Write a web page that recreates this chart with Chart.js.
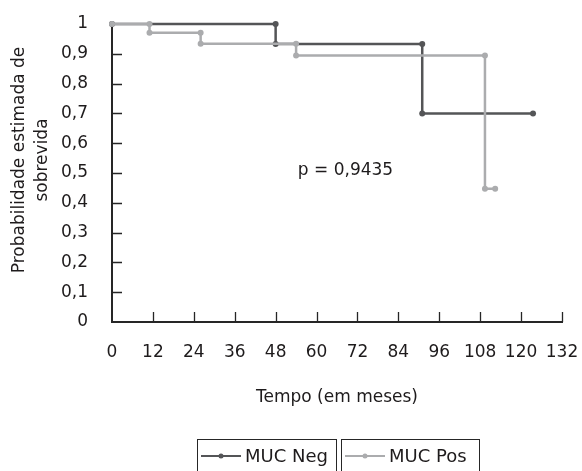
<!DOCTYPE html>
<html>
<head>
<meta charset="utf-8">
<script src="https://cdn.jsdelivr.net/npm/chart.js@4"></script>
<style>
  html, body { margin: 0; padding: 0; background: #fff; }
  #wrap { width: 582px; height: 471px; position: relative; }
</style>
</head>
<body>
<div id="wrap"><canvas id="kmChart"></canvas></div>
<script>
// --- DADOS ---
const negTempo = [0, 48, 48, 91, 91, 123.5];
const negSobrev = [1, 1, 0.933, 0.933, 0.70, 0.70];
const posTempo = [0, 11, 11, 26, 26, 54, 54, 109.4, 109.4, 112.4];
const posSobrev = [1, 1, 0.971, 0.971, 0.934, 0.934, 0.894, 0.894, 0.447, 0.447];
const seriesLabels = ['MUC Neg', 'MUC Pos'];
const yTickLabels = ['0', '0,1', '0,2', '0,3', '0,4', '0,5', '0,6', '0,7', '0,8', '0,9', '1'];
const xTicks = [0, 12, 24, 36, 48, 60, 72, 84, 96, 108, 120, 132];
const pTexto = 'p = 0,9435';

const fonte = 'DejaVu Sans';
const corTexto = '#1e1b1c';
const corEixo = '#262626';
const cores = { neg: '#545557', pos: '#abacae' };

const toPoints = (xs, ys) => xs.map((x, i) => ({ x: x, y: ys[i] }));

// ticks internos, texto p, titulo Y e legenda com caixas
const extras = {
  id: 'extras',
  beforeDatasetsDraw(chart) {
    const { ctx, scales: { x, y } } = chart;
    ctx.save();
    ctx.strokeStyle = corEixo;
    ctx.lineWidth = 1.3;
    ctx.beginPath();
    for (let i = 1; i < 10; i++) {
      const py = Math.round(y.getPixelForValue(i / 10)) + 0.5;
      ctx.moveTo(x.left, py);
      ctx.lineTo(x.left + 10, py);
    }
    xTicks.slice(1).forEach(v => {
      const px = Math.round(x.getPixelForValue(v)) + 0.5;
      ctx.moveTo(px, y.bottom);
      ctx.lineTo(px, y.bottom - 10);
    });
    ctx.stroke();
    ctx.restore();
  },
  afterDraw(chart) {
    const { ctx, scales: { x, y } } = chart;
    ctx.save();
    ctx.fillStyle = corTexto;
    ctx.textAlign = 'center';
    ctx.textBaseline = 'middle';

    // p-valor
    ctx.font = '17px ' + fonte;
    ctx.fillText(pTexto, x.getPixelForValue(68.5), y.getPixelForValue(0.507));

    // titulo do eixo Y (duas linhas)
    ctx.save();
    ctx.translate(20, 160);
    ctx.rotate(-Math.PI / 2);
    ctx.fillText('Probabilidade estimada de', 0, 0);
    ctx.fillText('sobrevida', 0, 23);
    ctx.restore();

    // legenda
    const caixas = [
      { x: 197, w: 139, ds: chart.data.datasets[0] },
      { x: 341, w: 138, ds: chart.data.datasets[1] }
    ];
    ctx.font = '18px ' + fonte;
    ctx.textAlign = 'left';
    caixas.forEach(c => {
      ctx.strokeStyle = corEixo;
      ctx.lineWidth = 1;
      ctx.strokeRect(c.x + 0.5, 439.5, c.w, 40);
      const ly = 456;
      ctx.strokeStyle = c.ds.borderColor;
      ctx.lineWidth = 2;
      ctx.beginPath();
      ctx.moveTo(c.x + 4, ly);
      ctx.lineTo(c.x + 44, ly);
      ctx.stroke();
      ctx.fillStyle = c.ds.borderColor;
      ctx.beginPath();
      ctx.arc(c.x + 24, ly, 2.5, 0, Math.PI * 2);
      ctx.fill();
      ctx.fillStyle = corTexto;
      ctx.fillText(c.ds.label, c.x + 48, ly + 1);
    });
    ctx.restore();
  }
};

new Chart(document.getElementById('kmChart'), {
  type: 'scatter',
  data: {
    datasets: [
      {
        label: seriesLabels[0],
        data: toPoints(negTempo, negSobrev),
        showLine: true,
        borderColor: cores.neg,
        backgroundColor: cores.neg,
        borderWidth: 2.5,
        pointRadius: 3,
        pointBorderWidth: 0,
        clip: false,
        order: 1
      },
      {
        label: seriesLabels[1],
        data: toPoints(posTempo, posSobrev),
        showLine: true,
        borderColor: cores.pos,
        backgroundColor: cores.pos,
        borderWidth: 2.5,
        pointRadius: 3,
        pointBorderWidth: 0,
        clip: false,
        order: 0
      }
    ]
  },
  options: {
    responsive: true,
    maintainAspectRatio: false,
    animation: false,
    layout: { padding: { left: 0, top: 24, right: 20, bottom: 63 } },
    plugins: { legend: { display: false }, tooltip: { enabled: false } },
    scales: {
      x: {
        type: 'linear',
        min: 0,
        max: 132,
        afterFit: s => { s.height = 86; s.paddingLeft = 0; s.paddingRight = 0; },
        afterBuildTicks: s => { s.ticks = xTicks.map(v => ({ value: v })); },
        grid: { display: false },
        border: { display: true, color: corEixo, width: 2 },
        ticks: { color: corTexto, font: { family: fonte, size: 17 }, padding: 12, maxRotation: 0, autoSkip: false },
        title: {
          display: true,
          text: 'Tempo (em meses)',
          color: corTexto,
          font: { family: fonte, size: 17 },
          padding: 0
        }
      },
      y: {
        min: 0,
        max: 1,
        afterFit: s => { s.width = 112; s.paddingTop = 0; s.paddingBottom = 0; },
        afterBuildTicks: s => { s.ticks = yTickLabels.map((t, i) => ({ value: i / 10 })); },
        grid: { display: false },
        border: { display: true, color: corEixo, width: 2 },
        ticks: {
          color: corTexto,
          font: { family: fonte, size: 17 },
          padding: 16,
          callback: (v) => yTickLabels[Math.round(v * 10)]
        }
      }
    }
  },
  plugins: [extras]
});
</script>
</body>
</html>
